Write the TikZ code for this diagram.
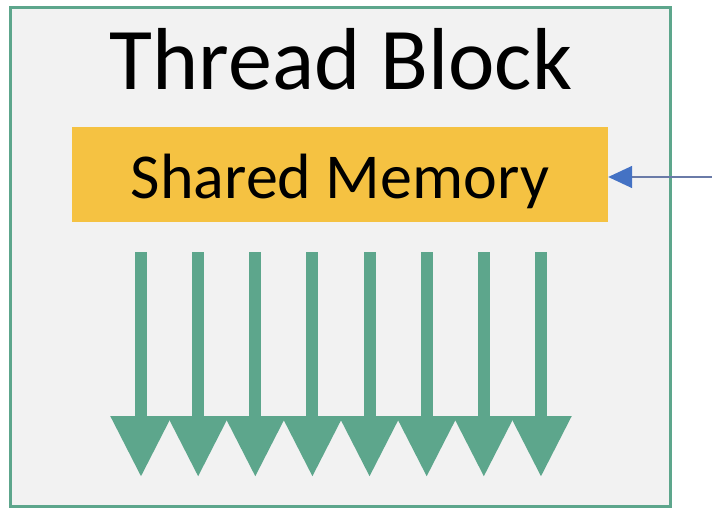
\documentclass[tikz,border=0pt]{standalone}
\usepackage{fontspec}
\setmainfont{Carlito}
\usetikzlibrary{arrows.meta}

\definecolor{blockgreen}{HTML}{5DA68C}
\definecolor{blockfill}{HTML}{F2F2F2}
\definecolor{memyellow}{HTML}{F5C242}
\definecolor{linkblue}{HTML}{4472C4}
\definecolor{linkline}{HTML}{6A7BA8}

\tikzset{
  blockbox/.style={draw=blockgreen, line width=3pt, fill=blockfill, inner sep=0pt},
  membox/.style={fill=memyellow, inner sep=0pt},
  threadarrow/.style={draw=blockgreen, line width=12pt,
    -{Triangle[width=58pt,length=61pt]}, fill=blockgreen},
  feedarrow/.style={draw=linkline, line width=1.6pt,
    -{Triangle[width=22pt,length=24pt,fill=linkblue,color=linkblue]}},
}

\begin{document}
\begin{tikzpicture}[x=1pt,y=-1pt]
  \useasboundingbox (0,0) rectangle (712,508);

  % thread block frame
  \node[blockbox, minimum width=660pt, minimum height=498pt] (block) at (340,257) {};

  % title
  \node[anchor=base, inner sep=0pt, font=\fontsize{88}{96}\selectfont] (title) at (341,90) {Thread Block};

  % shared memory
  \node[membox, minimum width=536pt, minimum height=95pt] (mem) at (340,174.5) {};
  \node[anchor=base, inner sep=0pt, font=\fontsize{64}{72}\selectfont] (memlabel) at (340,198) {Shared Memory};

  % incoming link to shared memory
  \coordinate (src) at (712,177);
  \draw[feedarrow] (src) -- (mem.east |- src);

  % threads
  \foreach \i in {0,...,7} {
    \coordinate (t\i a) at ({141+57.14*\i},252);
    \coordinate (t\i b) at ({141+57.14*\i},477);
    \draw[threadarrow] (t\i a) -- (t\i b);
  }
\end{tikzpicture}
\end{document}
